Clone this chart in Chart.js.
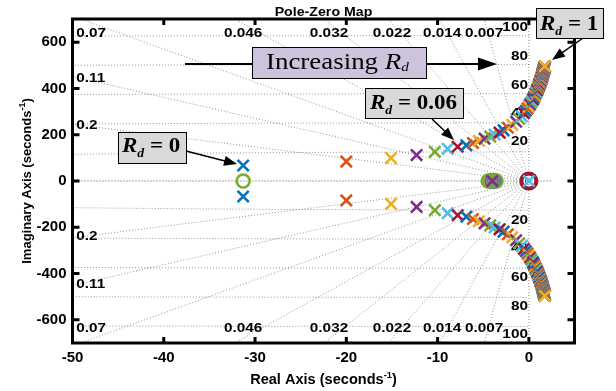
<!DOCTYPE html>
<html>
<head>
<meta charset="utf-8">
<script src="https://cdn.jsdelivr.net/npm/chart.js@4.4.1/dist/chart.umd.min.js"></script>
<style>
  html, body { margin: 0; padding: 0; background: #fff; }
</style>
</head>
<body>
<canvas id="pzmap" width="616" height="391"></canvas>
<script>
// axis ticks
const xTicks = [-50, -40, -30, -20, -10, 0]
const yTicks = [-600, -400, -200, 0, 200, 400, 600]

// grid: damping ratios of the rays, natural frequencies (Hz) of the circles
const dampingGrid = [0.007, 0.014, 0.022, 0.032, 0.046, 0.07, 0.11, 0.2]
const freqGridHz = [20, 40, 60, 80, 100]

// upper pole of the complex pair, one per Rd = 0, 0.01 ... 1
const poleRe = [
  -31.3, -20.0, -15.1, -12.3, -10.3, -8.9, -7.8, -6.85, -6.13, -5.47,
  -4.85, -4.23, -3.76, -3.21, -2.77, -2.30, -1.81, -1.39, -1.06, -0.77,
  -0.54, -0.34, -0.15, -0.01, 0.13, 0.26, 0.37, 0.47, 0.54, 0.62,
  0.68, 0.74, 0.80, 0.86, 0.91, 0.96, 1.00, 1.03, 1.07, 1.10,
  1.13, 1.16, 1.19, 1.22, 1.24, 1.27, 1.29, 1.31, 1.33, 1.36,
  1.37, 1.39, 1.41, 1.42, 1.43, 1.45, 1.46, 1.47, 1.48, 1.49,
  1.50, 1.51, 1.52, 1.53, 1.54, 1.55, 1.56, 1.57, 1.58, 1.58,
  1.59, 1.60, 1.61, 1.61, 1.62, 1.63, 1.63, 1.64, 1.65, 1.65,
  1.66, 1.66, 1.67, 1.68, 1.68, 1.68, 1.69, 1.70, 1.70, 1.70,
  1.71, 1.71, 1.72, 1.72, 1.73, 1.73, 1.74, 1.74, 1.74, 1.75,
  1.75
]
const poleIm = [
  67, 84, 99, 112, 126, 139, 148, 154, 164, 174,
  183, 192, 201, 209, 219, 230, 243, 256, 269, 280,
  293, 303, 313, 322, 331, 339, 346, 353, 360, 366,
  372, 378, 383, 388, 392, 397, 401, 405, 408, 412,
  415, 418, 422, 424, 427, 430, 433, 435, 437, 439,
  441, 443, 446, 448, 449, 451, 453, 455, 456, 458,
  460, 461, 463, 464, 465, 467, 468, 469, 470, 472,
  472, 474, 475, 476, 477, 478, 479, 480, 481, 482,
  483, 483, 484, 485, 486, 486, 487, 488, 489, 489,
  490, 491, 491, 492, 493, 493, 494, 494, 495, 496,
  496
]

// real poles and zeros
const realPoleRe = [-4.0, 0]
const zeroRe = [-31.3, -4.3, -4.15, -4.0, -3.85, -3.7, -4.45, -3.6, 0]

// MATLAB colour order
const colorOrder = ['#0072BD', '#D95319', '#EDB120', '#7E2F8E', '#77AC30', '#4DBEEE', '#A2142F']
const realPoleColors = ['#7E2F8E', '#4DBEEE']
const zeroColors = ['#77AC30', '#D95319', '#EDB120', '#7E2F8E', '#4DBEEE', '#0072BD', '#77AC30', '#77AC30', '#A2142F']

const polePoints = []
const poleColors = []
poleRe.forEach((re, i) => {
  const c = colorOrder[i % colorOrder.length]
  polePoints.push({ x: re, y: poleIm[i] }, { x: re, y: -poleIm[i] })
  poleColors.push(c, c)
})

const serif = '"Liberation Serif", "Times New Roman", serif'
const sans = '"Liberation Sans", Arial, sans-serif'

// text drawn piece by piece, stretched a little sideways like the original
const drawParts = (ctx, parts, x, y, sx) => {
  ctx.save()
  ctx.translate(x, y)
  ctx.scale(sx, 1)
  let cx = 0
  parts.forEach(p => {
    ctx.font = p.font
    ctx.fillText(p.text, cx, p.dy || 0)
    cx += ctx.measureText(p.text).width
  })
  ctx.restore()
}

const partsWidth = (ctx, parts) => {
  let w = 0
  parts.forEach(p => { ctx.font = p.font; w += ctx.measureText(p.text).width })
  return w
}

const arrow = (ctx, x1, y1, x2, y2, len, half, lw) => {
  const a = Math.atan2(y2 - y1, x2 - x1)
  const c = Math.cos(a), s = Math.sin(a)
  ctx.lineWidth = lw
  ctx.beginPath()
  ctx.moveTo(x1, y1)
  ctx.lineTo(x2 - c * len * 0.8, y2 - s * len * 0.8)
  ctx.stroke()
  if (!len) return
  ctx.beginPath()
  ctx.moveTo(x2, y2)
  ctx.lineTo(x2 - c * len - s * half, y2 - s * len + c * half)
  ctx.lineTo(x2 - c * len + s * half, y2 - s * len - c * half)
  ctx.closePath()
  ctx.fill()
}

const rdParts = (rest) => [
  { text: 'R', font: 'italic bold 20px ' + serif },
  { text: 'd', font: 'italic bold 12px ' + serif, dy: 5 },
  { text: rest, font: 'bold 20px ' + serif }
]

// damping rays, frequency circles and their labels
const pzGrid = {
  id: 'pzGrid',
  beforeDatasetsDraw(chart, args, opts) {
    const { ctx, chartArea: a, scales: { x, y } } = chart
    const x0 = x.getPixelForValue(0), y0 = y.getPixelForValue(0)
    ctx.save()
    ctx.beginPath()
    ctx.rect(a.left, a.top, a.right - a.left, a.bottom - a.top)
    ctx.clip()
    ctx.strokeStyle = 'rgba(0,0,0,0.42)'
    ctx.lineWidth = 1
    ctx.setLineDash([1, 2])

    dampingGrid.forEach(z => {
      const w = Math.sqrt(1 - z * z)
      ;[1, -1].forEach(sg => {
        ctx.beginPath()
        ctx.moveTo(x0, y0)
        ctx.lineTo(x.getPixelForValue(-z * 2000), y.getPixelForValue(sg * w * 2000))
        ctx.stroke()
      })
    })
    ctx.beginPath(); ctx.moveTo(x0, a.top); ctx.lineTo(x0, a.bottom); ctx.stroke()
    ctx.strokeStyle = 'rgba(0,0,0,0.7)'
    ctx.beginPath(); ctx.moveTo(a.left, y0); ctx.lineTo(x.getPixelForValue(2.5), y0); ctx.stroke()

    ctx.strokeStyle = 'rgba(0,0,0,0.42)'
    freqGridHz.forEach(f => {
      const r = 2 * Math.PI * f
      ctx.beginPath()
      for (let k = 0; k <= 720; k++) {
        const t = Math.PI / 2 + k * Math.PI / 720
        const px = x.getPixelForValue(r * Math.cos(t)), py = y.getPixelForValue(r * Math.sin(t))
        k ? ctx.lineTo(px, py) : ctx.moveTo(px, py)
      }
      ctx.stroke()
    })
    ctx.restore()

    ctx.save()
    ctx.fillStyle = '#000'
    ctx.textBaseline = 'middle'
    const font = 'bold 13px ' + sans
    dampingGrid.forEach(z => {
      const at = opts.dampLabelAt[z]
      if (!at) return
      ;[1, -1].forEach(sg => {
        drawParts(ctx, [{ text: String(z), font }], x.getPixelForValue(at[0]), y.getPixelForValue(sg * at[1]), 1.18)
      })
    })
    freqGridHz.forEach(f => {
      const at = opts.freqLabelAt[f]
      const parts = [{ text: String(f), font }]
      const w = partsWidth(ctx, parts) * 1.18
      ;[1, -1].forEach(sg => {
        drawParts(ctx, parts, x.getPixelForValue(at[0]) - w, y.getPixelForValue(sg * at[1]), 1.18)
      })
    })
    ctx.restore()
  }
}

// box, inward ticks, title, axis labels and the text boxes with arrows
const pzFrame = {
  id: 'pzFrame',
  afterDraw(chart, args, opts) {
    const { ctx, chartArea: a, scales: { x, y } } = chart
    ctx.save()
    ctx.strokeStyle = '#000'
    ctx.fillStyle = '#000'
    ctx.lineWidth = 3
    ctx.strokeRect(a.left, a.top, a.right - a.left, a.bottom - a.top)
    ctx.beginPath()
    xTicks.forEach(v => {
      const px = x.getPixelForValue(v)
      ctx.moveTo(px, a.bottom); ctx.lineTo(px, a.bottom - 6)
      ctx.moveTo(px, a.top); ctx.lineTo(px, a.top + 6)
    })
    yTicks.forEach(v => {
      const py = y.getPixelForValue(v)
      ctx.moveTo(a.left, py); ctx.lineTo(a.left + 7, py)
      ctx.moveTo(a.right, py); ctx.lineTo(a.right - 7, py)
    })
    ctx.stroke()

    // title and axis labels
    const cx = (a.left + a.right) / 2
    ctx.textBaseline = 'alphabetic'
    const title = [{ text: 'Pole-Zero Map', font: 'bold 13.5px ' + sans }]
    drawParts(ctx, title, cx - partsWidth(ctx, title) * 1.05 / 2, 16, 1.05)
    const xl = [
      { text: 'Real Axis (seconds', font: 'bold 14px ' + sans },
      { text: '-1', font: 'bold 9px ' + sans, dy: -6 },
      { text: ')', font: 'bold 14px ' + sans }
    ]
    drawParts(ctx, xl, cx - partsWidth(ctx, xl) * 1.04 / 2, 383.5, 1.04)
    const yl = [
      { text: 'Imaginary Axis (seconds', font: 'bold 13px ' + sans },
      { text: '-1', font: 'bold 9px ' + sans, dy: -6 },
      { text: ')', font: 'bold 13px ' + sans }
    ]
    ctx.save()
    ctx.translate(31, (a.top + a.bottom) / 2)
    ctx.rotate(-Math.PI / 2)
    drawParts(ctx, yl, -partsWidth(ctx, yl) / 2, 0, 1)
    ctx.restore()

    // annotations
    opts.lines.forEach(l => arrow(ctx, l[0], l[1], l[2], l[3], l[4], l[5], l[6]))
    ctx.lineWidth = 1
    opts.boxes.forEach(b => {
      ctx.fillStyle = b.fill
      ctx.fillRect(b.x, b.y, b.w, b.h)
      ctx.strokeRect(b.x + 0.5, b.y + 0.5, b.w, b.h)
      ctx.fillStyle = '#000'
      drawParts(ctx, b.parts, b.tx, b.ty, b.sx)
    })
    ctx.restore()
  }
}

Chart.defaults.font.family = sans
Chart.defaults.color = '#000'

new Chart(document.getElementById('pzmap'), {
  type: 'scatter',
  data: {
    datasets: [
      {
        label: 'complex poles',
        data: polePoints,
        pointStyle: 'crossRot',
        pointRadius: 8,
        pointBorderWidth: 2.6,
        pointBorderColor: poleColors,
        pointBackgroundColor: poleColors,
        showLine: false
      },
      {
        label: 'real poles',
        data: realPoleRe.map(v => ({ x: v, y: 0 })),
        pointStyle: 'crossRot',
        pointRadius: 8,
        pointBorderWidth: 2.6,
        pointBorderColor: realPoleColors,
        showLine: false
      },
      {
        label: 'zeros',
        data: zeroRe.map(v => ({ x: v, y: 0 })),
        pointStyle: 'circle',
        pointRadius: zeroRe.map(v => (v === 0 ? 7.5 : 6.5)),
        pointBorderWidth: zeroRe.map(v => (v === 0 ? 4 : 2.6)),
        pointBorderColor: zeroColors,
        pointBackgroundColor: zeroRe.map(v => (v > -10 && v < 0 ? 'rgba(125,120,120,0.45)' : 'rgba(0,0,0,0)')),
        showLine: false
      }
    ]
  },
  options: {
    responsive: false,
    animation: false,
    events: [],
    layout: { padding: { top: 19, right: 41.5, bottom: 0, left: 0 } },
    plugins: {
      legend: { display: false },
      tooltip: { enabled: false },
      pzGrid: {
        dampLabelAt: {
          0.07: [-49.6, 638], 0.046: [-33.4, 638], 0.032: [-24.0, 638],
          0.022: [-17.1, 638], 0.014: [-11.6, 638], 0.007: [-7.0, 638],
          0.11: [-49.6, 445], 0.2: [-49.6, 240]
        },
        freqLabelAt: { 20: [-0.1, 169], 40: [-0.1, 292], 60: [-0.1, 415], 80: [-0.1, 540], 100: [-0.1, 665] }
      },
      pzFrame: {
        boxes: [
          { x: 118, y: 132, w: 68, h: 31, fill: '#d9d9d9', tx: 122, ty: 152, sx: 1.15, parts: rdParts(' = 0') },
          { x: 252, y: 47, w: 174, h: 31, fill: '#cdc3dc', tx: 266, ty: 69, sx: 1.17, parts: [
            { text: 'Increasing ', font: '23px ' + serif },
            { text: 'R', font: 'italic 23px ' + serif },
            { text: 'd', font: 'italic 13px ' + serif, dy: 2 }
          ] },
          { x: 365, y: 88, w: 98, h: 30, fill: '#d9d9d9', tx: 370, ty: 109, sx: 1.15, parts: rdParts(' = 0.06') },
          { x: 536, y: 8, w: 67, h: 30, fill: '#d9d9d9', tx: 540, ty: 30, sx: 1.15, parts: rdParts(' = 1') }
        ],
        lines: [
          [186, 151, 237, 164, 13, 5, 1.5],
          [185, 64, 252, 64, 0, 0, 2],
          [426, 64, 497, 64, 19, 6.5, 2],
          [432, 119, 454, 140, 13, 5, 1.5],
          [583, 38, 552, 60, 13, 5, 1.5]
        ]
      }
    },
    scales: {
      x: {
        type: 'linear',
        min: -50,
        max: 5,
        grid: { display: false, drawTicks: false },
        border: { display: false },
        afterBuildTicks: s => { s.ticks = xTicks.map(v => ({ value: v })) },
        afterFit: s => { s.height = 48 },
        ticks: { font: { size: 15, weight: 'bold' }, padding: 6, maxRotation: 0, autoSkip: false }
      },
      y: {
        type: 'linear',
        min: -700,
        max: 700,
        grid: { display: false, drawTicks: false },
        border: { display: false },
        afterBuildTicks: s => { s.ticks = yTicks.map(v => ({ value: v })) },
        afterFit: s => { s.width = 72.5 },
        ticks: { font: { size: 15, weight: 'bold' }, padding: 6, autoSkip: false }
      }
    }
  },
  plugins: [pzGrid, pzFrame]
})
</script>
</body>
</html>
